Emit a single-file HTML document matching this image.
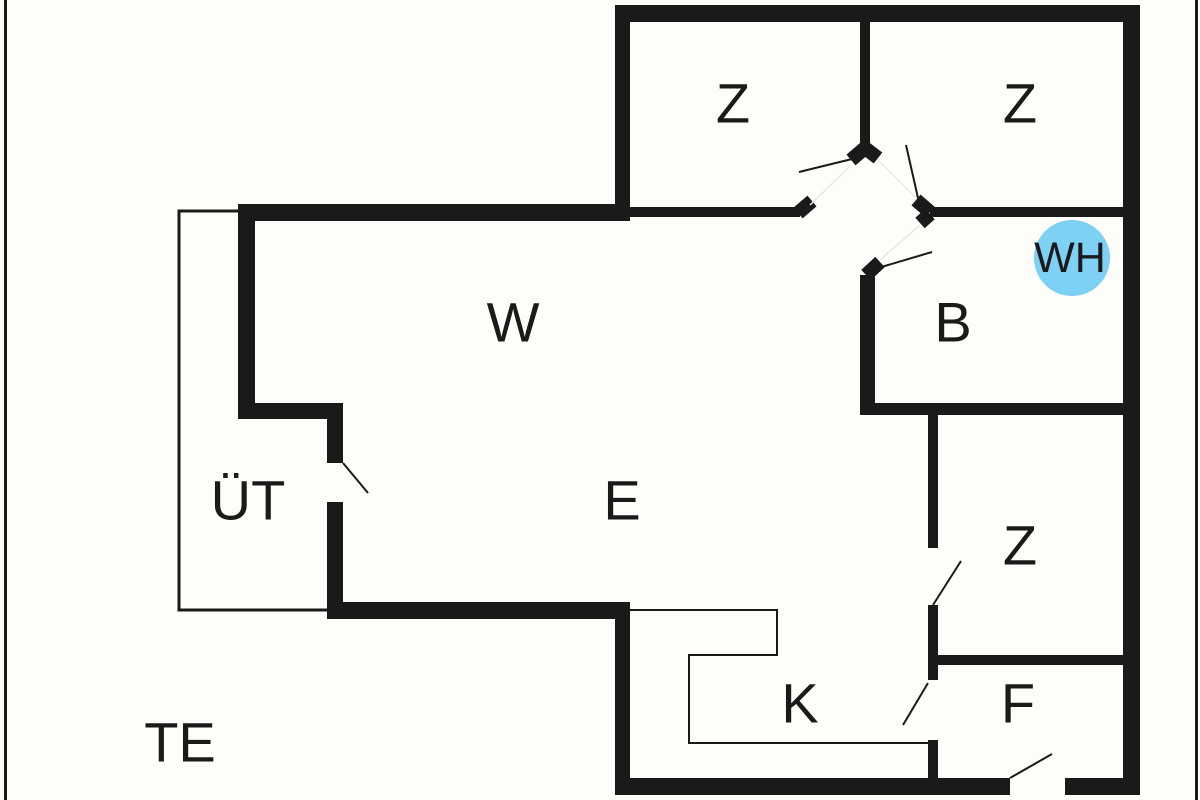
<!DOCTYPE html>
<html><head><meta charset="utf-8"><style>
html,body{margin:0;padding:0;background:#fdfdf9;}
svg{display:block}
text{font-family:"Liberation Sans",sans-serif;font-size:56px;fill:#1a1a1a;text-anchor:middle;dominant-baseline:central}
</style></head><body>
<svg width="1200" height="800" viewBox="0 0 1200 800">
<rect width="1200" height="800" fill="#fdfdf9"/>
<g fill="#1a1a1a">
<rect x="4" y="0" width="3" height="800"/>
<rect x="1195" y="0" width="3" height="800"/>
<rect x="615" y="5" width="525" height="17"/>
<rect x="615" y="5" width="15" height="215"/>
<rect x="1123" y="5" width="17" height="790"/>
<rect x="860" y="20" width="10" height="132"/>
<rect x="630" y="207" width="170" height="10"/>
<rect x="930" y="207" width="195" height="10"/>
<rect x="238" y="204" width="392" height="17"/>
<rect x="238" y="204" width="17" height="215"/>
<rect x="238" y="403" width="105" height="16"/>
<rect x="327" y="403" width="16" height="60"/>
<rect x="327" y="502" width="16" height="117"/>
<rect x="327" y="602" width="303" height="17"/>
<rect x="615" y="602" width="15" height="193"/>
<rect x="615" y="778" width="395" height="17"/>
<rect x="1065" y="778" width="75" height="17"/>
<rect x="860" y="275" width="15" height="140"/>
<rect x="860" y="403" width="265" height="12"/>
<rect x="928" y="415" width="10" height="133"/>
<rect x="928" y="605" width="10" height="75"/>
<rect x="928" y="740" width="10" height="40"/>
<rect x="938" y="655" width="187" height="10"/>
</g>
<g stroke="#1a1a1a" stroke-width="14" fill="none">
<line x1="798" y1="213" x2="812" y2="201"/>
<line x1="851" y1="160" x2="865" y2="148"/>
<line x1="865" y1="148" x2="878" y2="158"/>
<line x1="916" y1="200" x2="930" y2="212"/>
<line x1="930" y1="214" x2="920" y2="223"/>
<line x1="880" y1="262" x2="866" y2="275"/>
</g>
<g stroke="#1a1a1a" stroke-width="2" fill="none">
<line x1="799" y1="172" x2="852" y2="159"/>
<line x1="906" y1="145" x2="918" y2="198"/>
<line x1="878" y1="268" x2="932" y2="252"/>
<line x1="343" y1="463" x2="368" y2="493"/>
<line x1="933" y1="605" x2="961" y2="561"/>
<line x1="928" y1="683" x2="903" y2="725"/>
<line x1="1010" y1="778" x2="1052" y2="754"/>
<polyline points="238,211 179,211 179,610 327,610" stroke-width="3"/>
<polyline points="630,610 777,610 777,655 689,655 689,743 928,743"/>
</g>
<g stroke="#e8e8e4" stroke-width="1.5" fill="none">
<line x1="810" y1="205" x2="851" y2="165"/>
<line x1="878" y1="160" x2="916" y2="198"/>
<line x1="920" y1="225" x2="880" y2="260"/>
</g>
<circle cx="1072" cy="258" r="38" fill="#7fd0f5"/>
<text x="733" y="103">Z</text>
<text x="1020" y="103">Z</text>
<text x="1070" y="258" style="font-size:43px">WH</text>
<text x="513" y="322">W</text>
<text x="953" y="322">B</text>
<text x="248" y="500">ÜT</text>
<text x="622" y="500">E</text>
<text x="1020" y="545">Z</text>
<text x="800" y="703">K</text>
<text x="1018" y="703">F</text>
<text x="180" y="742">TE</text>
</svg>
</body></html>
